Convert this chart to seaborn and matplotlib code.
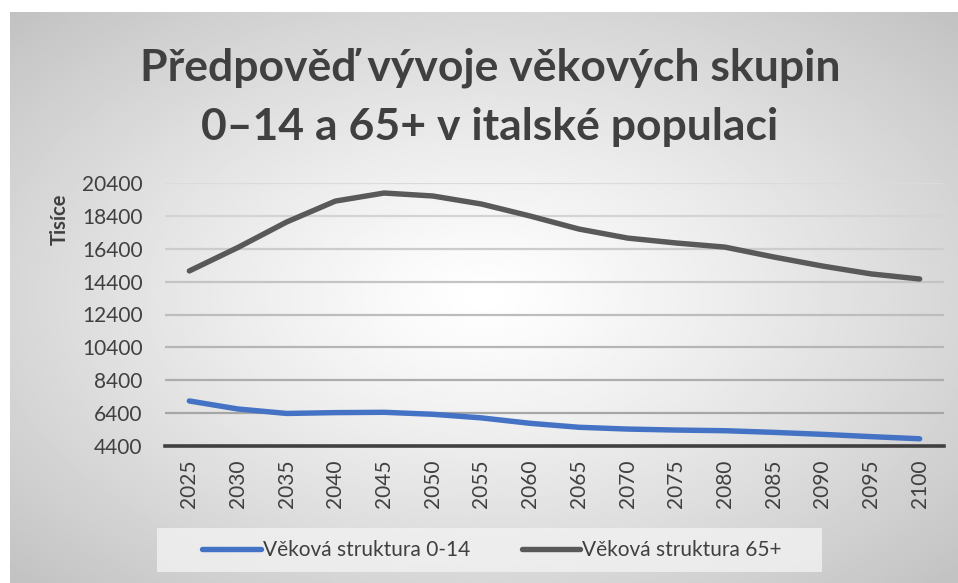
import numpy as np
import pandas as pd
import seaborn as sns
import matplotlib.pyplot as plt
from matplotlib.lines import Line2D
from matplotlib.patches import Rectangle

years = ['2025', '2030', '2035', '2040', '2045', '2050', '2055', '2060',
         '2065', '2070', '2075', '2080', '2085', '2090', '2095', '2100']
age_0_14 = [7140, 6650, 6380, 6430, 6450, 6330, 6110, 5780,
            5540, 5430, 5370, 5330, 5230, 5110, 4970, 4840]
age_65 = [15050, 16480, 18030, 19300, 19790, 19610, 19120, 18390,
          17600, 17050, 16750, 16500, 15900, 15350, 14870, 14560]
series_names = ['Věková struktura 0-14', 'Věková struktura 65+']
y_ticks = [4400, 6400, 8400, 10400, 12400, 14400, 16400, 18400, 20400]
title_lines = ['Předpověď vývoje věkových skupin', '0–14 a 65+ v italské populaci']

df = pd.DataFrame({
    'Rok': years * 2,
    'Hodnota': age_0_14 + age_65,
    'Skupina': [series_names[0]] * len(years) + [series_names[1]] * len(years),
})

sns.set_theme(style="white")
plt.rcParams['font.family'] = ['Lato', 'DejaVu Sans']

fig = plt.figure(figsize=(9.58, 5.83), dpi=100)
fig.patch.set_facecolor('white')

# radial gradient background of the chart area
bg = fig.add_axes([10 / 958, 0, 1 - 10 / 958, 1 - 12 / 583], zorder=-5)
gx, gy = np.meshgrid(np.linspace(-1, 1, 400), np.linspace(-1, 1, 300))
r = np.sqrt(gx ** 2 + gy ** 2) / np.sqrt(2)
bg.imshow(1 - 0.24 * r ** 1.2, cmap='gray', vmin=0, vmax=1, aspect='auto',
          extent=[0, 1, 0, 1])
bg.set_axis_off()

ax = fig.add_axes([165 / 958, 1 - 446 / 583, (944 - 165) / 958, (446 - 183) / 583])
ax.set_facecolor('none')
palette = {series_names[0]: '#4472C4', series_names[1]: '#595959'}
sns.lineplot(data=df, x='Rok', y='Hodnota', hue='Skupina', palette=palette,
             linewidth=3.9, ax=ax, legend=False, sort=False)
for ln in ax.lines:
    ln.set_solid_capstyle('round')
    ln.set_solid_joinstyle('round')

ax.set_xlim(-0.5, len(years) - 0.5)
ax.set_ylim(y_ticks[0], y_ticks[-1])
ax.set_yticks(y_ticks)
ax.set_yticklabels([str(v) for v in y_ticks])
ax.grid(axis='y', linewidth=1.6)
grid_cols = np.linspace(0.62, 0.86, len(y_ticks))
for gl, c in zip(ax.yaxis.get_gridlines(), grid_cols):
    gl.set_color((c, c, c))
ax.set_axisbelow(True)
for s in ['top', 'right', 'left']:
    ax.spines[s].set_visible(False)
ax.spines['bottom'].set_color('#404040')
ax.spines['bottom'].set_linewidth(2.6)
ax.spines['bottom'].set_zorder(1)
ax.tick_params(axis='y', length=0, pad=16, labelsize=15, labelcolor='#404040')
ax.tick_params(axis='x', length=0, pad=10, labelsize=15, labelcolor='#404040',
               labelrotation=90)
ax.set_xlabel('')
ax.set_ylabel('')

fig.text(60 / 958, 1 - 219 / 583, 'Tisíce', rotation=90, ha='center', va='center',
         fontsize=14.5, fontweight='bold', color='#404040')
fig.text(490 / 958, 1 - 68 / 583, title_lines[0], ha='center', va='center',
         fontsize=32, fontweight='bold', color='#404040')
fig.text(490 / 958, 1 - 127 / 583, title_lines[1], ha='center', va='center',
         fontsize=32, fontweight='bold', color='#404040')

# legend background box
fig.patches.append(Rectangle((157 / 958, 1 - 572 / 583), (822 - 157) / 958, 44 / 583,
                             transform=fig.transFigure, facecolor='#f2f2f2',
                             alpha=0.8, edgecolor='none', zorder=-1))
handles = [Line2D([0], [0], color=palette[n], linewidth=3.9, solid_capstyle='round')
           for n in series_names]
fig.legend(handles, series_names, loc='center', ncol=2,
           bbox_to_anchor=(492 / 958, 1 - 550 / 583), fontsize=15,
           frameon=False, handlelength=2.8, handletextpad=0.1,
           columnspacing=2.5, borderpad=0.3, borderaxespad=0,
           labelcolor='#404040')

fig.savefig('out.png', dpi=100)
